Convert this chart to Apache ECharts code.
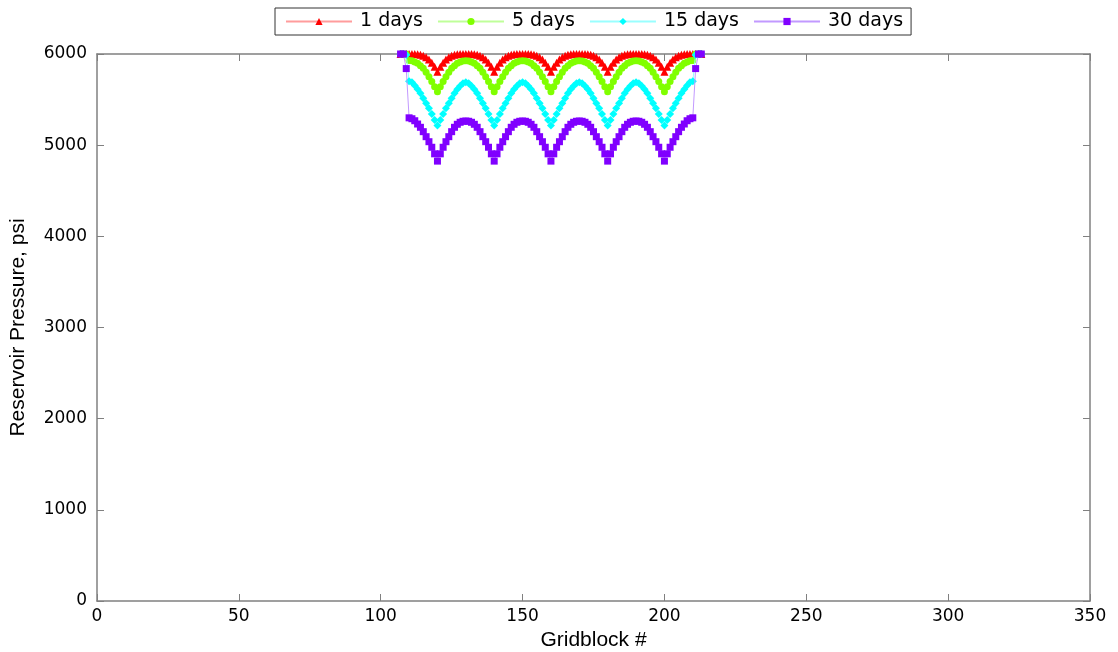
<!DOCTYPE html>
<html>
<head>
<meta charset="utf-8">
<script src="https://cdn.jsdelivr.net/npm/echarts@6/dist/echarts.min.js"></script>
<style>
html,body{margin:0;padding:0;background:#fff;overflow:hidden;}
#chart{width:1118px;height:652px;}
</style>
</head>
<body>
<div id="chart"></div>
<script>
const seriesNames = ["1 days", "5 days", "15 days", "30 days"];
const xTicks = [0, 50, 100, 150, 200, 250, 300, 350];
const yTicks = [0, 1000, 2000, 3000, 4000, 5000, 6000];

const gridblocks = [107,108,109,110,111,112,113,114,115,116,117,118,119,120,
121,122,123,124,125,126,127,128,129,130,131,132,133,134,135,136,137,138,139,140,
141,142,143,144,145,146,147,148,149,150,151,152,153,154,155,156,157,158,159,160,
161,162,163,164,165,166,167,168,169,170,171,172,173,174,175,176,177,178,179,180,
181,182,183,184,185,186,187,188,189,190,191,192,193,194,195,196,197,198,199,200,
201,202,203,204,205,206,207,208,209,210,211,212,213];

const p1day = [6000,6000,6000,6000,6000,5999,5997,5992,5982,5965,5940,5905,5860,5805,
5860,5905,5940,5965,5982,5992,5997,5999,6000,6000,6000,5999,5997,5992,5982,5965,5940,5905,5860,5805,
5860,5905,5940,5965,5982,5992,5997,5999,6000,6000,6000,5999,5997,5992,5982,5965,5940,5905,5860,5805,
5860,5905,5940,5965,5982,5992,5997,5999,6000,6000,6000,5999,5997,5992,5982,5965,5940,5905,5860,5805,
5860,5905,5940,5965,5982,5992,5997,5999,6000,6000,6000,5999,5997,5992,5982,5965,5940,5905,5860,5805,
5860,5905,5940,5965,5982,5992,5997,5999,6000,6000,6000,6000,6000];

const p5day = [6000,6000,6000,5930,5925,5912,5898,5872,5843,5799,5751,5697,5642,5587,
5642,5697,5751,5799,5843,5872,5898,5912,5923,5927,5923,5912,5898,5872,5843,5799,5751,5697,5642,5587,
5642,5697,5751,5799,5843,5872,5898,5912,5923,5927,5923,5912,5898,5872,5843,5799,5751,5697,5642,5587,
5642,5697,5751,5799,5843,5872,5898,5912,5923,5927,5923,5912,5898,5872,5843,5799,5751,5697,5642,5587,
5642,5697,5751,5799,5843,5872,5898,5912,5923,5927,5923,5912,5898,5872,5843,5799,5751,5697,5642,5587,
5642,5697,5751,5799,5843,5872,5898,5912,5925,5930,6000,6000,6000];

const p15day = [6000,6000,5990,5700,5690,5655,5613,5569,5514,5459,5404,5342,5276,5215,
5276,5342,5404,5459,5514,5569,5613,5649,5679,5690,5679,5649,5613,5569,5514,5459,5404,5342,5276,5215,
5276,5342,5404,5459,5514,5569,5613,5649,5679,5690,5679,5649,5613,5569,5514,5459,5404,5342,5276,5215,
5276,5342,5404,5459,5514,5569,5613,5649,5679,5690,5679,5649,5613,5569,5514,5459,5404,5342,5276,5215,
5276,5342,5404,5459,5514,5569,5613,5649,5679,5690,5679,5649,5613,5569,5514,5459,5404,5342,5276,5215,
5276,5342,5404,5459,5514,5569,5613,5655,5690,5700,5990,6000,6000];

const p30day = [6000,6000,5840,5300,5290,5268,5232,5196,5148,5093,5038,4977,4905,4825,
4905,4977,5038,5093,5148,5196,5229,5251,5262,5265,5262,5251,5229,5196,5148,5093,5038,4977,4905,4825,
4905,4977,5038,5093,5148,5196,5229,5251,5262,5265,5262,5251,5229,5196,5148,5093,5038,4977,4905,4825,
4905,4977,5038,5093,5148,5196,5229,5251,5262,5265,5262,5251,5229,5196,5148,5093,5038,4977,4905,4825,
4905,4977,5038,5093,5148,5196,5229,5251,5262,5265,5262,5251,5229,5196,5148,5093,5038,4977,4905,4825,
4905,4977,5038,5093,5148,5196,5232,5268,5290,5300,5840,6000,6000];

const seriesValues = [p1day, p5day, p15day, p30day];
const markerColors = ["#ff0000", "#80ff00", "#00ffff", "#8000ff"];
const lineColors = ["#ff9c9c", "#bfff99", "#99ffff", "#c299ff"];
const symbols = ["triangle", "circle", "diamond", "rect"];
const symbolSizes = [8, 7, 8, 7];

const tickFont = "DejaVu Sans, Verdana, sans-serif";
const nameFont = "Liberation Sans, Arial, sans-serif";
const axisColor = "#808080";

function zip(xs, ys){ return xs.map((x,i)=>[x, ys[i]]); }

const chart = echarts.init(document.getElementById('chart'), null, {renderer:'canvas'});
const baseAxis = {
  axisLine:{show:true, onZero:false, lineStyle:{color:axisColor, width:1.5}},
  axisTick:{show:true, inside:true, length:7, lineStyle:{color:axisColor, width:1}},
  splitLine:{show:false}
};
chart.setOption({
  animation:false,
  backgroundColor:'#ffffff',
  grid:{left:97, right:28, top:54, bottom:51, containLabel:false, outerBoundsMode:'none'},
  legend:{
    data:seriesNames,
    top:8, left:275,
    itemWidth:66, itemHeight:9, itemGap:14,
    padding:[4,8,4,10],
    borderColor:'#333', borderWidth:1,
    textStyle:{fontFamily:tickFont, fontSize:19, color:'#000', padding:[0,0,0,3]}
  },
  xAxis:[
    Object.assign({}, baseAxis, {type:'value', min:xTicks[0], max:xTicks[xTicks.length-1], interval:50, position:'bottom',
      name:'Gridblock #', nameLocation:'middle', nameGap:27,
      nameTextStyle:{fontFamily:nameFont, fontSize:21, color:'#000'},
      axisLabel:{fontFamily:tickFont, fontSize:17, color:'#000', margin:7, formatter:v=>String(v)}}),
    Object.assign({}, baseAxis, {type:'value', min:xTicks[0], max:xTicks[xTicks.length-1], interval:50, position:'top',
      axisLabel:{show:false}})
  ],
  yAxis:[
    Object.assign({}, baseAxis, {type:'value', min:yTicks[0], max:yTicks[yTicks.length-1], interval:1000, position:'left',
      name:'Reservoir Pressure, psi', nameLocation:'middle', nameGap:68,
      nameTextStyle:{fontFamily:nameFont, fontSize:21, color:'#000'},
      axisLabel:{fontFamily:tickFont, fontSize:17, color:'#000', margin:10, formatter:v=>String(v)}}),
    Object.assign({}, baseAxis, {type:'value', min:yTicks[0], max:yTicks[yTicks.length-1], interval:1000, position:'right',
      axisLabel:{show:false}})
  ],
  series: seriesNames.map((n,i)=>({
    name:n, type:'line', xAxisIndex:0, yAxisIndex:0,
    data: zip(gridblocks, seriesValues[i]),
    symbol:symbols[i], symbolSize:symbolSizes[i], showSymbol:true,
    itemStyle:{color:markerColors[i]},
    lineStyle:{color:lineColors[i], width:1},
    z: 2+i
  }))
});
</script>
</body>
</html>
